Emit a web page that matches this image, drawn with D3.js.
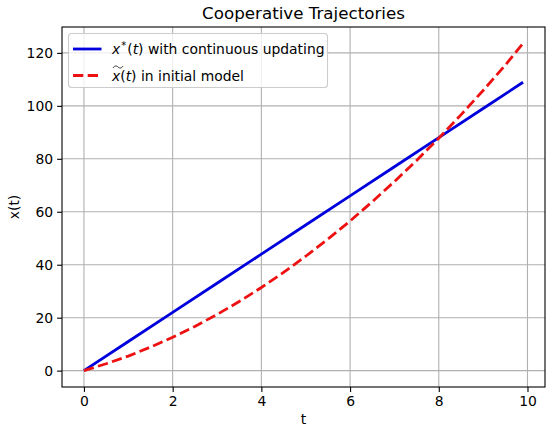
<!DOCTYPE html>
<html>
<head>
<meta charset="utf-8">
<script src="https://cdn.jsdelivr.net/npm/d3@7"></script>
<style>
	body { margin: 0; background: #fff; }
	svg { display: block; font-family: 'DejaVu Sans', sans-serif; }
</style>
</head>
<body>
<script>
const svgWidth = 550; //Width of SVG.
const svgHeight = 429; //Height of SVG.

const plotLeft = 62; //Axes box edges.
const plotRight = 545;
const plotTop = 27;
const plotBottom = 387;

// Data.
const updatingT = [0, 1, 2, 3, 4, 5, 6, 7, 8, 9, 9.9];
const updatingX = [0, 11, 22, 33, 44, 55, 66, 77, 88, 99, 108.9];

const initialT = [0, 0.5, 1, 1.5, 2, 2.5, 3, 3.5, 4, 4.5, 5, 5.5, 6, 6.5, 7, 7.5, 8, 8.5, 9, 9.5, 9.9];
const initialX = [0, 2.6, 5.5, 8.9, 12.6, 16.7, 21.2, 26.1, 31.4, 37.1, 43.2, 49.7, 56.5, 63.8, 71.4, 79.4, 87.8, 96.6, 105.8, 115.4, 123.6];

const xTicks = [0, 2, 4, 6, 8, 10];
const yTicks = [0, 20, 40, 60, 80, 100, 120];

const blue = '#0000dd';
const red = '#ee1111';

const svg = d3.select('body')
	.append('svg')
	.attr('width', svgWidth)
	.attr('height', svgHeight);

const xScale = d3.scaleLinear()
	.domain([-0.495, 10.395])
	.range([plotLeft, plotRight]);

const yScale = d3.scaleLinear()
	.domain([-6.18, 129.78])
	.range([plotBottom, plotTop]);

// grid lines
svg.append('g')
	.selectAll('line')
	.data(xTicks)
	.enter()
	.append('line')
	.attr('x1', d => xScale(d))
	.attr('x2', d => xScale(d))
	.attr('y1', plotTop)
	.attr('y2', plotBottom)
	.attr('stroke', '#b0b0b0')
	.attr('stroke-width', 1.1);

svg.append('g')
	.selectAll('line')
	.data(yTicks)
	.enter()
	.append('line')
	.attr('x1', plotLeft)
	.attr('x2', plotRight)
	.attr('y1', d => yScale(d))
	.attr('y2', d => yScale(d))
	.attr('stroke', '#b0b0b0')
	.attr('stroke-width', 1.1);

// axes
const xAxis = d3.axisBottom(xScale)
	.tickValues(xTicks)
	.tickSize(4.9)
	.tickPadding(4)
	.tickSizeOuter(0);

const yAxis = d3.axisLeft(yScale)
	.tickValues(yTicks)
	.tickSize(4.9)
	.tickPadding(4)
	.tickSizeOuter(0);

const gx = svg.append('g')
	.attr('transform', 'translate(0,' + plotBottom + ')')
	.call(xAxis);

const gy = svg.append('g')
	.attr('transform', 'translate(' + plotLeft + ',0)')
	.call(yAxis);

[gx, gy].forEach(g => {
	g.select('.domain').remove();
	g.selectAll('.tick line').attr('stroke', '#000').attr('stroke-width', 1.1);
	g.selectAll('.tick text')
		.attr('fill', '#000')
		.style('font-family', 'DejaVu Sans')
		.style('font-size', '13.9px');
});

// lines
const line = d3.line()
	.x(d => xScale(d[0]))
	.y(d => yScale(d[1]));

svg.append('path')
	.datum(updatingT.map((t, i) => [t, updatingX[i]]))
	.attr('d', line)
	.attr('fill', 'none')
	.attr('stroke', blue)
	.attr('stroke-width', 2.8);

svg.append('path')
	.datum(initialT.map((t, i) => [t, initialX[i]]))
	.attr('d', line)
	.attr('fill', 'none')
	.attr('stroke', red)
	.attr('stroke-width', 2.8)
	.attr('stroke-dasharray', '10.3,4.4');

// frame
svg.append('rect')
	.attr('x', plotLeft)
	.attr('y', plotTop)
	.attr('width', plotRight - plotLeft)
	.attr('height', plotBottom - plotTop)
	.attr('fill', 'none')
	.attr('stroke', '#000')
	.attr('stroke-width', 1.1);

// title + labels
svg.append('text')
	.attr('x', (plotLeft + plotRight) / 2)
	.attr('y', 19)
	.attr('text-anchor', 'middle')
	.style('font-size', '16.7px')
	.text('Cooperative Trajectories');

svg.append('text')
	.attr('x', (plotLeft + plotRight) / 2)
	.attr('y', 424)
	.attr('text-anchor', 'middle')
	.style('font-size', '13.9px')
	.text('t');

svg.append('text')
	.attr('transform', 'translate(19,' + ((plotTop + plotBottom) / 2) + ') rotate(-90)')
	.attr('text-anchor', 'middle')
	.style('font-size', '13.9px')
	.text('x(t)');

// legend
const legend = svg.append('g');

legend.append('rect')
	.attr('x', 68.5)
	.attr('y', 33.5)
	.attr('width', 259)
	.attr('height', 54)
	.attr('rx', 3)
	.attr('fill', 'rgba(255,255,255,0.8)')
	.attr('stroke', '#cccccc')
	.attr('stroke-width', 1.1);

legend.append('line')
	.attr('x1', 73).attr('x2', 101.5)
	.attr('y1', 49).attr('y2', 49)
	.attr('stroke', blue)
	.attr('stroke-width', 2.8);

legend.append('line')
	.attr('x1', 73).attr('x2', 101.5)
	.attr('y1', 75.5).attr('y2', 75.5)
	.attr('stroke', red)
	.attr('stroke-width', 2.8)
	.attr('stroke-dasharray', '10.3,4.4');

const label1 = legend.append('text')
	.attr('x', 112)
	.attr('y', 54)
	.style('font-size', '13.9px');
label1.append('tspan').style('font-style', 'italic').text('x');
label1.append('tspan').attr('dx', 1).attr('dy', -5).style('font-size', '10px').text('*');
label1.append('tspan').attr('dx', 1).attr('dy', 5).text('(');
label1.append('tspan').style('font-style', 'italic').text('t');
label1.append('tspan').text(') with continuous updating');

const label2 = legend.append('text')
	.attr('x', 112)
	.attr('y', 80.5)
	.style('font-size', '13.9px');
label2.append('tspan').style('font-style', 'italic').text('x');
label2.append('tspan').text('(');
label2.append('tspan').style('font-style', 'italic').text('t');
label2.append('tspan').text(') in initial model');

// the wide tilde over x
legend.append('path')
	.attr('d', 'M113,68 C114.5,65.5 116.5,65.5 118,67 C119.5,68.5 121.5,68.5 123,66')
	.attr('fill', 'none')
	.attr('stroke', '#000')
	.attr('stroke-width', 0.8);
</script>
</body>
</html>
